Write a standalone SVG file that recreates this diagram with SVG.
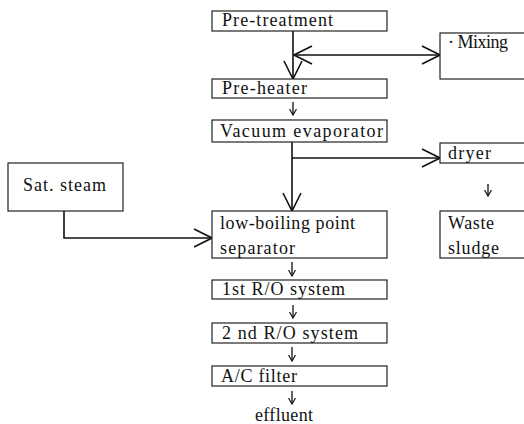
<svg xmlns="http://www.w3.org/2000/svg" width="524" height="424" viewBox="0 0 524 424">
<style>
.box{fill:#fff;stroke:#222;stroke-width:1.2}
.t{font-family:"Liberation Serif","Times New Roman",serif;font-size:18px;fill:#111}
.c{fill:none;stroke:#111;stroke-width:1.6}
.s{fill:none;stroke:#111;stroke-width:1.3}
</style>
<defs>
<marker id="big" viewBox="0 0 20 20" refX="19" refY="10" markerWidth="20" markerHeight="20" markerUnits="userSpaceOnUse" orient="auto-start-reverse">
<path d="M1,1 L19,10 L1,19" fill="none" stroke="#111" stroke-width="1.6"/>
</marker>
<marker id="small" viewBox="0 0 7 8" refX="6.5" refY="4" markerWidth="7" markerHeight="8" markerUnits="userSpaceOnUse" orient="auto">
<path d="M0.5,0.5 L6.5,4 L0.5,7.5" fill="none" stroke="#111" stroke-width="1.2"/>
</marker>
</defs>
<rect width="524" height="424" fill="#fff"/>
<g id="connectors">
<path class="c" d="M293,31 V79" marker-end="url(#big)"/>
<path class="c" d="M294,55 H440" marker-start="url(#big)" marker-end="url(#big)"/>
<path class="s" d="M293,102 V115" marker-end="url(#small)"/>
<path class="c" d="M292,142 V211" marker-end="url(#big)"/>
<path class="c" d="M292,158 H440" marker-end="url(#big)"/>
<path class="c" d="M64,211 V238 H212" marker-end="url(#big)"/>
<path class="s" d="M488,184 V196" marker-end="url(#small)"/>
<path class="s" d="M292,262 V276" marker-end="url(#small)"/>
<path class="s" d="M293,305 V318" marker-end="url(#small)"/>
<path class="s" d="M292,347 V361" marker-end="url(#small)"/>
<path class="s" d="M292,391 V404" marker-end="url(#small)"/>
</g>
<g id="pretreatment"><rect class="box" x="212" y="11" width="175" height="20"/><text class="t" x="222" y="26" textLength="111">Pre-treatment</text></g>
<g id="mixing"><rect class="box" x="440" y="33" width="100" height="46"/><text class="t" x="448" y="48" textLength="60">· Mixing</text></g>
<g id="preheater"><rect class="box" x="212" y="79" width="175" height="19"/><text class="t" x="222" y="94" textLength="85">Pre-heater</text></g>
<g id="vacuum"><rect class="box" x="212" y="120" width="175" height="22"/><text class="t" x="220" y="137" textLength="163">Vacuum evaporator</text></g>
<g id="dryer"><rect class="box" x="440" y="143" width="100" height="20"/><text class="t" x="448" y="159" textLength="43">dryer</text></g>
<g id="satsteam"><rect class="box" x="8" y="163" width="115" height="48"/><text class="t" x="23" y="191" textLength="83">Sat. steam</text></g>
<g id="lowboiling"><rect class="box" x="212" y="211" width="175" height="47"/><text class="t" x="220" y="229" textLength="135">low-boiling point</text><text class="t" x="220" y="254" textLength="75">separator</text></g>
<g id="waste"><rect class="box" x="440" y="211" width="100" height="47"/><text class="t" x="448" y="229" textLength="46">Waste</text><text class="t" x="448" y="254" textLength="51">sludge</text></g>
<g id="ro1"><rect class="box" x="212" y="280" width="175" height="19"/><text class="t" x="222" y="295" textLength="123">1st R/O system</text></g>
<g id="ro2"><rect class="box" x="212" y="323" width="175" height="20"/><text class="t" x="222" y="339" textLength="136">2 nd R/O system</text></g>
<g id="acfilter"><rect class="box" x="212" y="366" width="175" height="20"/><text class="t" x="221" y="382" textLength="76">A/C filter</text></g>
<g id="effluent"><text class="t" x="255" y="421" textLength="58">effluent</text></g>
</svg>
